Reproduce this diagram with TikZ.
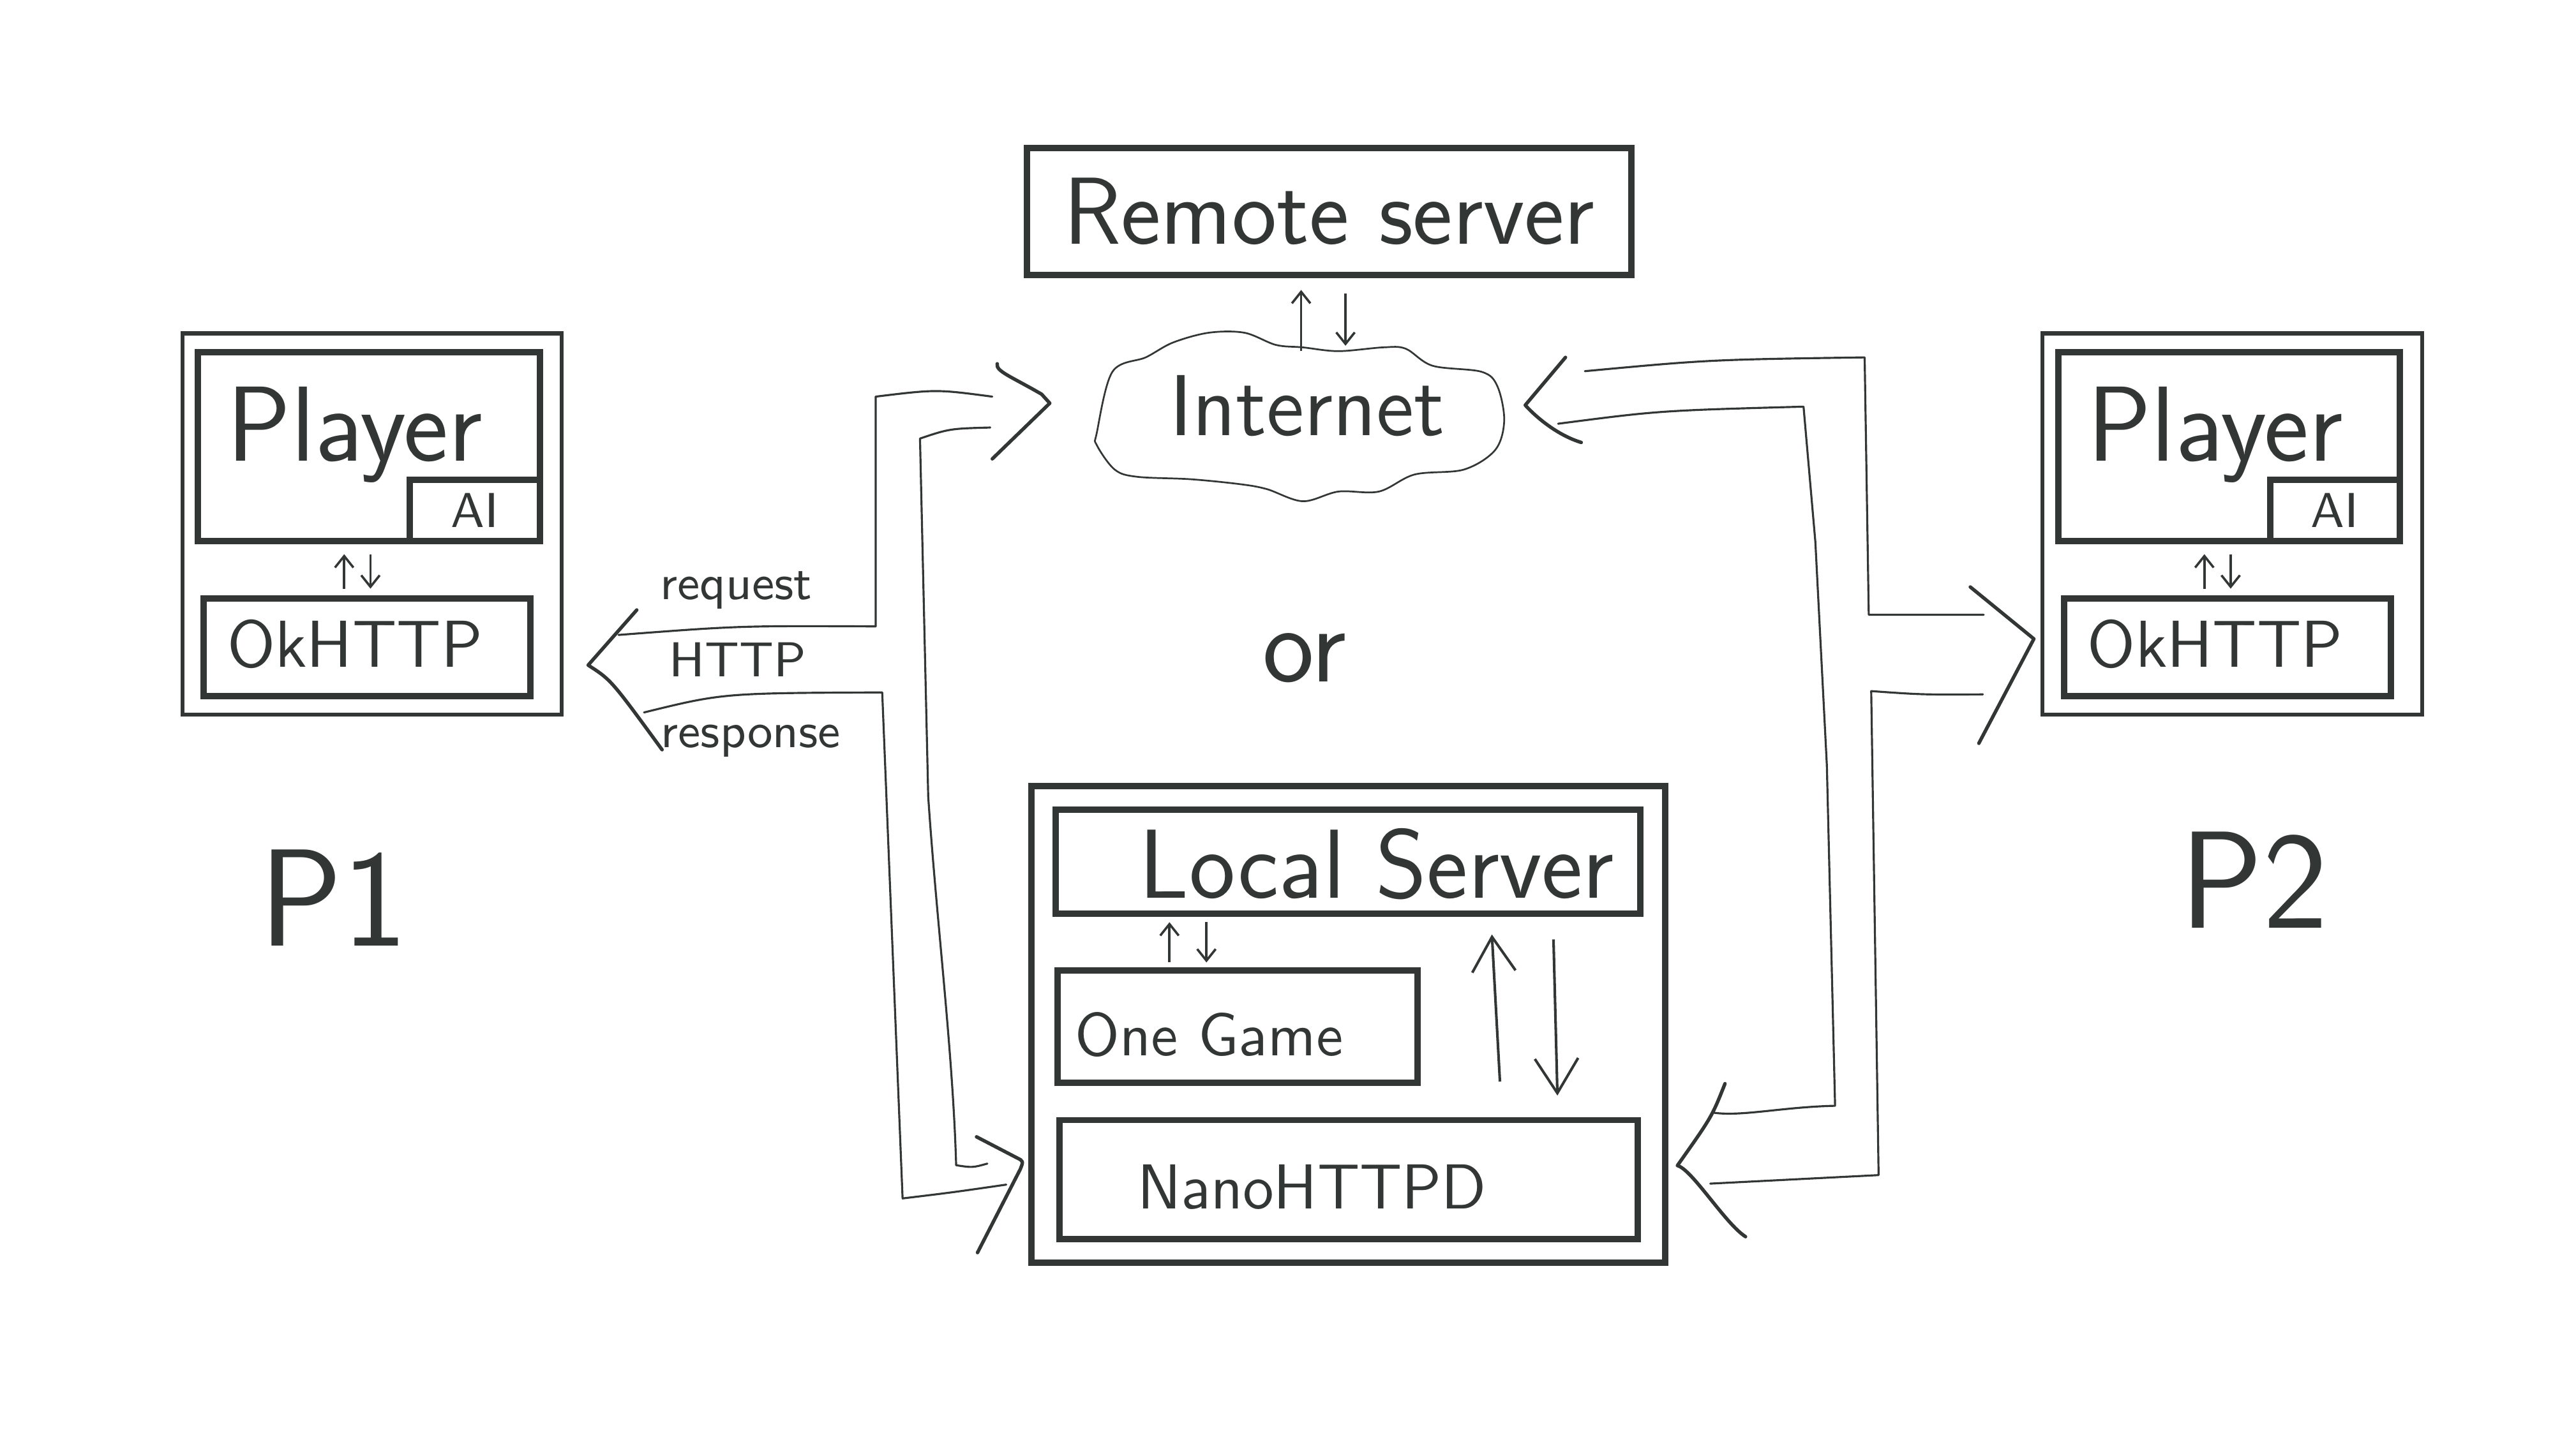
\documentclass[tikz,border=0pt]{standalone}
\usepackage{fontspec}
\usetikzlibrary{arrows.meta,calc}
\definecolor{ink}{HTML}{323634}
\newcommand{\handsize}[1]{\fontsize{#1}{#1}\selectfont}

\begin{document}
\begin{tikzpicture}[x=0.1mm, y=-0.1mm,
  box/.style={draw=ink, line width=1.1pt, inner sep=0pt},
  panel/.style={draw=ink, line width=0.7pt, inner sep=0pt},
  hand/.style={text=ink, font=\sffamily\handsize{#1}, inner sep=0pt, anchor=base},
  pipe/.style={draw=ink, line width=0.35pt, line cap=round, line join=round},
  chevron/.style={draw=ink, line width=0.6pt, line cap=round, line join=round},
  cloudline/.style={draw=ink, line width=0.3pt},
  twoway/.style={draw=ink, line width=0.4pt, -{Straight Barb[length=2pt,width=3.2pt]}},
  bigarr/.style={draw=ink, line width=0.45pt, -{Straight Barb[length=6pt,width=7.5pt]}}]
\useasboundingbox (0,0) rectangle (1568,882);

% Remote server over the internet cloud
\node[box, minimum width=36.8mm, minimum height=7.76mm, text=ink,
  font=\sffamily\handsize{16.5}] (remote) at (809,128.8) {Remote server};
\node[hand=15] (internet) at (795.6,265) {Internet};
\draw[cloudline] plot[smooth cycle, tension=0.55] coordinates {
  (667.6,263.6) (677.1,226.4) (697.6,217.5) (713.9,208.6) (735.7,202.6)
  (757.5,202.6) (776.6,210.0) (793.0,211.5) (814.7,213.8) (842.0,211.5)
  (855.6,212.3) (872.0,222.7) (901.9,226.4) (911.5,235.3) (915.6,256.1)
  (910.1,274.0) (891.1,285.9) (861.1,288.9) (839.3,299.3) (814.7,299.3)
  (793.0,305.2) (771.1,297.8) (754.8,294.8) (724.8,291.8) (692.1,290.3)
  (678.5,285.9) (667.6,271.0)};
\draw[twoway] ($(remote.south)+(-17,44)$) -- ($(remote.south)+(-17,7)$);
\draw[twoway] ($(remote.south)+(10,9)$) -- ($(remote.south)+(10,41)$);

% the two players
\foreach \i/\cx/\lx/\ly in {1/226.5/203/576, 2/1358.8/1372/565}{
  \node[panel, minimum width=23.1mm, minimum height=23.2mm] (panel\i) at (\cx,319) {};
  \node[box, minimum width=20.8mm, minimum height=11.5mm] (player\i) at ($(panel\i)+(-2,-47)$) {};
  \node[hand=18.5] (playertxt\i) at ($(player\i)+(-8.5,8.5)$) {Player};
  \node[box, minimum width=7.9mm, minimum height=3.75mm, anchor=south east, text=ink,
    font=\sffamily\handsize{8.5}] (ai\i) at (player\i.south east) {AI};
  \node[box, minimum width=19.9mm, minimum height=5.95mm] (okhttp\i) at ($(panel\i)+(-3,75)$) {};
  \node[hand=11.5] (okhttptxt\i) at ($(okhttp\i)+(-7.4,12)$) {OkHTTP};
  \draw[twoway] ($(player\i.south)+(-15,27)$) -- ($(player\i.south)+(-15,6)$);
  \draw[twoway] ($(player\i.south)+(1,6)$) -- ($(player\i.south)+(1,27)$);
  \node[hand=24] (plabel\i) at (\lx,\ly) {P\i};
}

% local server
\node[box, minimum width=38.6mm, minimum height=29mm] (local) at (820.7,623.75) {};
\node[box, minimum width=35.6mm, minimum height=6.35mm] (localsrv) at (820.6,524.7) {};
\node[hand=17] (localtxt) at (838,547) {Local Server};
\node[box, minimum width=21.9mm, minimum height=6.85mm] (onegame) at (753.35,625.2) {};
\node[hand=10.5] (onegametxt) at (736,642.6) {One Game};
\node[box, minimum width=35.2mm, minimum height=7.25mm] (nano) at (821,718.25) {};
\node[hand=11] (nanotxt) at (798.6,736) {NanoHTTPD};
\draw[twoway] ($(onegame.north)+(-41.5,-3)$) -- ($(onegame.north)+(-41.5,-27.5)$);
\draw[twoway] ($(onegame.north)+(-19,-27.5)$) -- ($(onegame.north)+(-19,-3)$);
\draw[bigarr] ($(nano.north)+(92,-21.5)$) -- ($(localsrv.south)+(87.5,10.6)$);
\draw[bigarr] ($(localsrv.south)+(125,13.6)$) -- ($(nano.north)+(127,-13)$);

\node[hand=19] (ortext) at (794,415) {or};

% HTTP labels
\node[hand=8.5] (reqtxt) at (448,365) {request};
\node[hand=8.5] (httptxt) at (449,412) {HTTP};
\node[hand=8.5] (resptxt) at (457,455) {response};

% left pipe: P1 to internet or NanoHTTPD
\draw[pipe] (376.5,386.6) .. controls (450,381) .. (533,381.4) -- (533,241.5)
  .. controls (570,237) .. (604,241.5);
\draw[pipe] (392,433.8) .. controls (440,422) .. (537,421.6) -- (549.4,729.7)
  .. controls (580,726) .. (612.5,721.3);
\draw[pipe] (602.8,260.3) .. controls (578,261) .. (560,267) -- (565,485)
  .. controls (570,560) and (580,640) .. (582,709.5) .. controls (592,711) .. (601,708.5);
\draw[chevron] (387.6,371.4) -- (358,405) .. controls (372,414) .. (403,456.5);
\draw[chevron] (607,221.5) .. controls (606,226) and (615,229) .. (634,240) -- (639,245.5) -- (604,279.4);
\draw[chevron] (594.4,692.2) -- (619,705) .. controls (623,707) .. (621,712) -- (595,762.7);

% right pipe: P2 to internet or NanoHTTPD
\draw[pipe] (964.7,226) .. controls (1040,219) .. (1135,217.6) -- (1137.5,374.3) -- (1207.5,374.3);
\draw[pipe] (1207,422.8) .. controls (1170,423) .. (1139,420.8) -- (1143.5,715.5) -- (1041,720.7);
\draw[pipe] (948.4,258) .. controls (1010,250) .. (1097.8,247.6) -- (1105,330) -- (1112,466)
  -- (1117,673.3) .. controls (1085,674) and (1060,680) .. (1043,677.5);
\draw[chevron] (952.9,217.6) -- (928.4,246.7) .. controls (935,254) and (948,265) .. (962.5,269.4);
\draw[chevron] (1199.3,357.4) -- (1238,389) -- (1204.5,452.6);
\draw[chevron] (1050,659.8) .. controls (1042,680) .. (1021,709.7)
  .. controls (1030,712) and (1050,745) .. (1062.5,753);
\end{tikzpicture}
\end{document}
